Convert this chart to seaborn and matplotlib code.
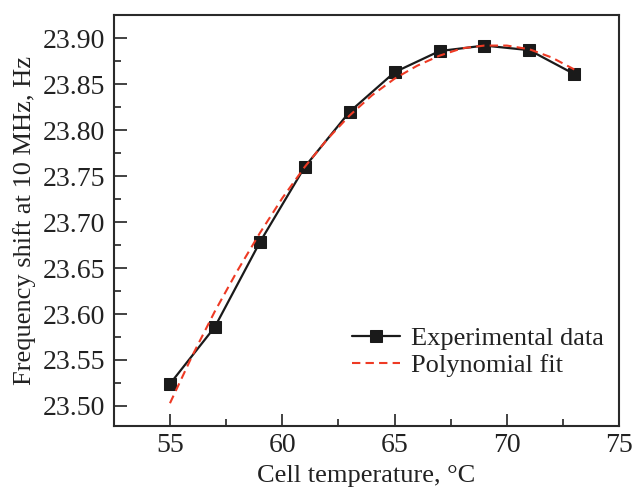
import numpy as np
import pandas as pd
import matplotlib
matplotlib.use("Agg")
import matplotlib.pyplot as plt
import seaborn as sns
from matplotlib.ticker import MultipleLocator

# Data
temp_exp = [55, 57, 59, 61, 63, 65, 67, 69, 71, 73]
shift_exp = [23.524, 23.586, 23.678, 23.760, 23.820, 23.863, 23.886, 23.892, 23.887, 23.861]

temp_fit = [55, 56, 57, 58, 59, 60, 61, 62, 63, 64, 65, 66, 67, 68, 69, 70, 71, 72, 73]
shift_fit = [23.503, 23.555, 23.603, 23.647, 23.688, 23.726, 23.760, 23.790, 23.816,
             23.838, 23.856, 23.870, 23.881, 23.889, 23.892, 23.892, 23.888, 23.879, 23.866]

x_ticks = [55, 60, 65, 70, 75]
y_ticks = [23.50, 23.55, 23.60, 23.65, 23.70, 23.75, 23.80, 23.85, 23.90]

sns.set_style("white")
plt.rcParams['font.family'] = ['Liberation Serif', 'DejaVu Serif']
plt.rcParams['xtick.direction'] = 'in'
plt.rcParams['ytick.direction'] = 'in'
plt.rcParams['xtick.bottom'] = True
plt.rcParams['ytick.left'] = True

fig = plt.figure(figsize=(6.43, 4.91), dpi=100)
ax = fig.add_axes([0.177, 0.132, 0.786, 0.837])

df_exp = pd.DataFrame({"t": temp_exp, "f": shift_exp})
df_fit = pd.DataFrame({"t": temp_fit, "f": shift_fit})

sns.lineplot(data=df_exp, x="t", y="f", ax=ax, color="#1a1a1a", lw=1.6,
             marker="s", markersize=9, markeredgecolor="#1a1a1a",
             label="Experimental data", zorder=3)
sns.lineplot(data=df_fit, x="t", y="f", ax=ax, color="#ee3a24", lw=1.5,
             linestyle=(0, (4, 2.5)), label="Polynomial fit", zorder=4)

ax.set_xlim(52.5, 75)
ax.set_ylim(23.478, 23.925)
ax.set_xticks(x_ticks)
ax.set_yticks(y_ticks)
ax.set_yticklabels([f"{v:.2f}" for v in y_ticks])
ax.xaxis.set_minor_locator(MultipleLocator(2.5))
ax.yaxis.set_minor_locator(MultipleLocator(0.025))
ax.tick_params(which="both", direction="in", bottom=True, left=True, top=False, right=False,
               labelsize=20, colors="#222222", width=1.2)
ax.tick_params(which="major", direction="in", length=9)
ax.tick_params(which="minor", direction="in", length=5)
ax.tick_params(axis="x", which="major", pad=5)
ax.tick_params(axis="y", which="major", pad=6)
for s in ax.spines.values():
    s.set_linewidth(1.5)
    s.set_color("#2a2a2a")

ax.set_xlabel("Cell temperature, °C", fontsize=19, color="#222222", labelpad=5)
ax.set_ylabel("Frequency shift at 10 MHz, Hz", fontsize=19, color="#222222", labelpad=5)

leg = ax.legend(loc="lower right", bbox_to_anchor=(1.0, 0.08), frameon=False,
                fontsize=19, handlelength=1.8, handletextpad=0.4, labelspacing=0.15,
                borderaxespad=0.2)
for t in leg.get_texts():
    t.set_color("#222222")

fig.savefig("out.png", dpi=100)
